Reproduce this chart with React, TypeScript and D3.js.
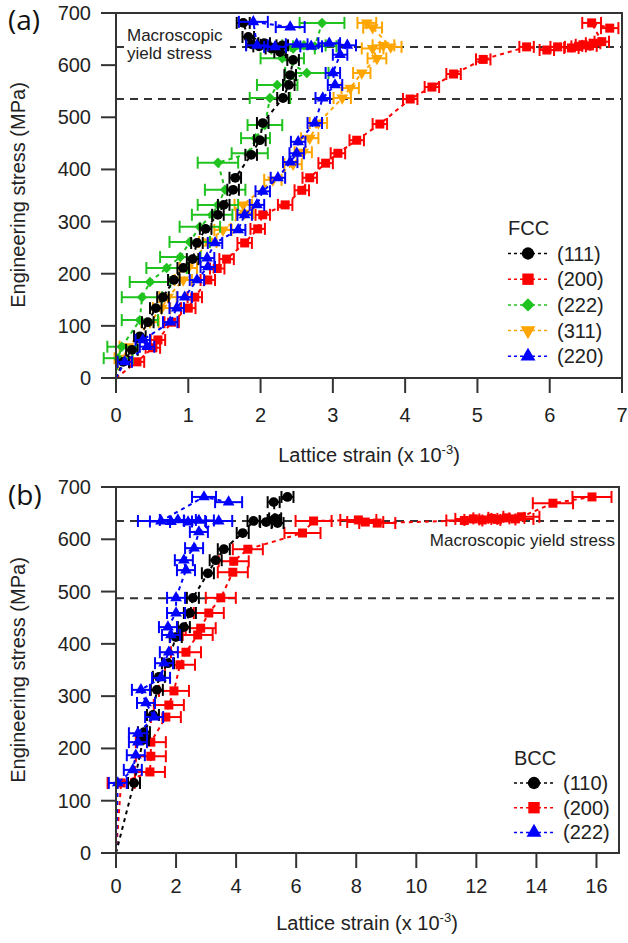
import React from "react";
import * as d3 from "d3";

// ---------- Panel (a): FCC ----------
const fccNames = ["(111)", "(200)", "(222)", "(311)", "(220)"];
const fccColors = ["#000000", "#ff0000", "#1fc21f", "#ffa500", "#0000ff"];
const fccShapes = ["circle", "square", "diamond", "triDown", "triUp"];

const fcc111Strain = [0, 0.10, 0.22, 0.33, 0.44, 0.55, 0.65, 0.80, 0.93, 1.06, 1.12, 1.24, 1.41, 1.49, 1.62, 1.65, 1.87, 1.99, 2.03, 2.31, 2.39, 2.41, 2.45, 2.27, 2.15, 1.98, 1.88, 2.05, 2.30, 1.83, 1.76];
const fcc111Stress = [0, 31, 54, 80, 107, 134, 155, 188, 211, 228, 259, 286, 313, 332, 361, 384, 428, 456, 489, 537, 562, 581, 610, 625, 632, 636, 640, 642, 638, 654, 681];
const fcc111Err = [0, 0.08, 0.08, 0.08, 0.08, 0.08, 0.08, 0.08, 0.08, 0.08, 0.08, 0.08, 0.08, 0.08, 0.08, 0.08, 0.08, 0.08, 0.08, 0.08, 0.08, 0.08, 0.08, 0.08, 0.08, 0.08, 0.08, 0.08, 0.08, 0.08, 0.09];

const fcc200Strain = [0, 0.29, 0.51, 0.58, 0.77, 1.00, 1.09, 1.27, 1.40, 1.53, 1.78, 1.96, 2.03, 2.34, 2.57, 2.68, 2.90, 3.07, 3.33, 3.65, 4.07, 4.37, 4.67, 5.08, 5.68, 5.96, 6.11, 6.30, 6.40, 6.46, 6.55, 6.60, 6.72, 6.58, 6.83];
const fcc200Stress = [0, 31, 58, 73, 107, 134, 155, 188, 210, 228, 259, 286, 313, 332, 360, 384, 412, 431, 456, 487, 535, 558, 583, 611, 635, 629, 635, 633, 636, 639, 637, 642, 645, 681, 671];
const fcc200Err = [0, 0.1, 0.1, 0.1, 0.1, 0.1, 0.1, 0.1, 0.1, 0.1, 0.1, 0.1, 0.1, 0.1, 0.1, 0.1, 0.1, 0.1, 0.1, 0.1, 0.1, 0.1, 0.1, 0.1, 0.1, 0.1, 0.1, 0.1, 0.1, 0.1, 0.1, 0.1, 0.1, 0.13, 0.12];

const fcc222Strain = [0, 0.03, 0.08, 0.33, 0.36, 0.47, 0.70, 0.89, 1.02, 1.16, 1.33, 1.41, 1.51, 1.41, 1.85, 1.93, 2.06, 2.13, 2.23, 2.64, 2.30, 2.45, 2.60, 2.75, 2.85];
const fcc222Stress = [0, 38, 60, 111, 155, 184, 211, 232, 261, 290, 313, 332, 361, 413, 431, 460, 485, 537, 562, 585, 613, 632, 638, 636, 681];
const fcc222Err = [0, 0.2, 0.2, 0.25, 0.28, 0.28, 0.28, 0.28, 0.28, 0.28, 0.28, 0.28, 0.28, 0.28, 0.25, 0.2, 0.24, 0.28, 0.28, 0.3, 0.3, 0.3, 0.3, 0.3, 0.31];

const fcc311Strain = [0, 0.10, 0.17, 0.47, 0.63, 0.72, 0.93, 1.00, 1.27, 1.48, 1.78, 1.76, 2.17, 2.45, 2.59, 2.68, 2.80, 3.13, 3.24, 3.40, 3.61, 3.55, 3.70, 3.80, 3.55, 3.47];
const fcc311Stress = [0, 38, 60, 107, 134, 155, 188, 211, 261, 284, 316, 332, 380, 410, 433, 460, 489, 537, 556, 585, 613, 632, 638, 635, 672, 681];
const fcc311Err = [0, 0.12, 0.12, 0.12, 0.12, 0.12, 0.12, 0.12, 0.12, 0.12, 0.12, 0.12, 0.12, 0.12, 0.12, 0.12, 0.12, 0.12, 0.12, 0.12, 0.13, 0.15, 0.15, 0.15, 0.13, 0.13];

const fcc220Strain = [0, 0.12, 0.43, 0.37, 0.75, 0.84, 0.95, 1.12, 1.27, 1.26, 1.37, 1.69, 1.78, 1.95, 2.03, 2.24, 2.41, 2.50, 2.52, 2.75, 2.86, 3.03, 3.00, 3.10, 3.20, 2.95, 2.70, 2.50, 2.20, 1.95, 1.90, 2.41];
const fcc220Stress = [0, 31, 60, 73, 107, 134, 155, 188, 213, 230, 259, 284, 313, 332, 358, 384, 414, 431, 453, 489, 537, 562, 585, 620, 638, 642, 636, 640, 635, 638, 683, 673];
const fcc220Err = [0, 0.1, 0.1, 0.1, 0.1, 0.1, 0.1, 0.1, 0.1, 0.1, 0.1, 0.1, 0.1, 0.1, 0.1, 0.1, 0.1, 0.1, 0.1, 0.1, 0.1, 0.1, 0.1, 0.1, 0.12, 0.15, 0.15, 0.15, 0.15, 0.15, 0.2, 0.2];

const fccXTicks = [0, 1, 2, 3, 4, 5, 6, 7];
const fccYTicks = [0, 100, 200, 300, 400, 500, 600, 700];
const fccRefLines = [635, 535];

// ---------- Panel (b): BCC ----------
const bccNames = ["(110)", "(200)", "(222)"];
const bccColors = ["#000000", "#ff0000", "#0000ff"];
const bccShapes = ["circle", "square", "triUp"];

const bcc110Strain = [0, 0.60, 0.90, 0.93, 1.23, 1.36, 1.43, 1.73, 1.99, 2.26, 2.46, 2.56, 3.06, 3.32, 3.59, 4.22, 4.58, 5.00, 5.25, 5.38, 5.30, 5.25, 5.71];
const bcc110Stress = [0, 134, 216, 231, 264, 312, 337, 363, 413, 432, 459, 488, 535, 560, 581, 612, 635, 633, 637, 631, 640, 671, 681];
const bcc110Err = [0, 0.2, 0.2, 0.2, 0.2, 0.2, 0.2, 0.2, 0.2, 0.2, 0.2, 0.2, 0.2, 0.2, 0.2, 0.2, 0.2, 0.2, 0.2, 0.2, 0.2, 0.2, 0.2];

const bcc200Strain = [0, 0.17, 1.13, 1.16, 1.16, 1.66, 1.76, 1.93, 2.13, 2.33, 2.72, 2.82, 3.09, 3.49, 3.89, 3.92, 4.39, 6.21, 6.58, 8.07, 8.30, 8.70, 11.6, 11.9, 12.2, 12.5, 12.7, 13.0, 13.3, 13.5, 14.55, 15.85];
const bcc200Stress = [0, 134, 155, 185, 212, 260, 283, 310, 360, 384, 417, 430, 459, 488, 537, 558, 581, 612, 635, 637, 633, 631, 636, 639, 637, 640, 638, 641, 639, 643, 669, 681];
const bcc200Err = [0, 0.45, 0.5, 0.5, 0.5, 0.5, 0.5, 0.5, 0.5, 0.5, 0.5, 0.5, 0.5, 0.5, 0.5, 0.5, 0.5, 0.6, 0.6, 0.6, 0.6, 0.6, 0.6, 0.6, 0.6, 0.6, 0.6, 0.6, 0.6, 0.6, 0.67, 0.65];

const bcc222Strain = [0, 0.06, 0.56, 0.66, 0.73, 0.73, 1.27, 1.00, 0.83, 1.50, 1.60, 1.76, 1.83, 1.73, 2.00, 2.00, 2.33, 2.26, 2.60, 2.76, 3.42, 2.76, 2.40, 2.06, 1.83, 1.50, 2.93, 3.75];
const bcc222Stress = [0, 134, 159, 187, 212, 229, 260, 287, 312, 335, 363, 384, 417, 432, 459, 488, 541, 560, 583, 614, 635, 636, 633, 637, 634, 635, 681, 671];
const bcc222Err = [0, 0.3, 0.3, 0.3, 0.3, 0.3, 0.3, 0.3, 0.3, 0.3, 0.3, 0.3, 0.3, 0.3, 0.3, 0.3, 0.3, 0.3, 0.3, 0.3, 0.45, 0.5, 0.6, 0.6, 0.7, 0.77, 0.4, 0.45];

const bccXTicks = [0, 2, 4, 6, 8, 10, 12, 14, 16];
const bccYTicks = [0, 100, 200, 300, 400, 500, 600, 700];
const bccRefLines = [635, 487];

// ---------- helpers ----------
const AXIS = "#333333";
const TICKFONT = "'Liberation Sans', Arial, sans-serif";

function markerPath(shape: string, big: boolean) {
  const k = big ? 1.6 : 1;
  if (shape === "circle") return d3.symbol(d3.symbolCircle, 75 * k)()!;
  if (shape === "square") return d3.symbol(d3.symbolSquare, 81 * k)()!;
  if (shape === "diamond") return d3.symbol(d3.symbolSquare, 55 * k)()!;
  return d3.symbol(d3.symbolTriangle, 60 * k)()!;
}
function markerRot(shape: string) {
  if (shape === "diamond") return 45;
  if (shape === "triDown") return 180;
  return 0;
}

type Ser = { strain: number[]; stress: number[]; err: number[]; color: string; shape: string };

function SeriesG({ s, x, y }: { s: Ser; x: any; y: any }) {
  const pts = s.strain.map((v, i) => ({ x: v, y: s.stress[i], e: s.err[i] }));
  const line = d3.line<any>().x((d) => x(d.x)).y((d) => y(d.y));
  const mp = markerPath(s.shape, false);
  const rot = markerRot(s.shape);
  return (
    <g>
      <path d={line(pts)!} fill="none" stroke={s.color} strokeWidth={2} strokeDasharray="4,4" />
      {pts.map((p, i) =>
        p.y === 0 ? null : (
          <g key={i}>
            <line x1={x(p.x - p.e)} x2={x(p.x + p.e)} y1={y(p.y)} y2={y(p.y)} stroke={s.color} strokeWidth={2} />
            <line x1={x(p.x - p.e)} x2={x(p.x - p.e)} y1={y(p.y) - 6} y2={y(p.y) + 6} stroke={s.color} strokeWidth={2} />
            <line x1={x(p.x + p.e)} x2={x(p.x + p.e)} y1={y(p.y) - 6} y2={y(p.y) + 6} stroke={s.color} strokeWidth={2} />
            <path d={mp} fill={s.color} transform={`translate(${x(p.x)},${y(p.y)}) rotate(${rot})`} />
          </g>
        )
      )}
    </g>
  );
}

function Axes({ x, y, xTicks, yTicks, labelOff }: any) {
  const [x0, x1] = x.range();
  const [y0, y1] = y.range();
  return (
    <g>
      <rect x={x0} y={y1} width={x1 - x0} height={y0 - y1} fill="none" stroke={AXIS} strokeWidth={2} />
      {yTicks.map((t: number) => (
        <g key={"y" + t}>
          <line x1={x0 - 15} x2={x0} y1={y(t)} y2={y(t)} stroke={AXIS} strokeWidth={2} />
          <text x={x0 - 25} y={y(t) + 7} textAnchor="end" fontSize={20} fontFamily={TICKFONT} fill="#222">{t}</text>
        </g>
      ))}
      {xTicks.map((t: number) => (
        <g key={"x" + t}>
          <line x1={x(t)} x2={x(t)} y1={y0} y2={y0 + 15} stroke={AXIS} strokeWidth={2} />
          <text x={x(t)} y={y0 + labelOff} textAnchor="middle" fontSize={20} fontFamily={TICKFONT} fill="#222">{t}</text>
        </g>
      ))}
    </g>
  );
}

function Legend({ title, names, colors, shapes, x0, yTitle, y0, step }: any) {
  return (
    <g>
      <text x={x0} y={yTitle + 7} fontSize={20} fontFamily={TICKFONT} fill="#222">{title}</text>
      {names.map((n: string, i: number) => {
        const yy = y0 + i * step;
        return (
          <g key={n}>
            <line x1={x0} x2={x0 + 40} y1={yy} y2={yy} stroke={colors[i]} strokeWidth={1.5} strokeDasharray="3,3" />
            <path d={markerPath(shapes[i], true)} fill={colors[i]} transform={`translate(${x0 + 20},${yy}) rotate(${markerRot(shapes[i])})`} />
            <text x={x0 + 49} y={yy + 7} fontSize={20} fontFamily={TICKFONT} fill="#222">{n}</text>
          </g>
        );
      })}
    </g>
  );
}

export default function App() {
  const xA = d3.scaleLinear().domain([0, 7]).range([116, 622]);
  const yA = d3.scaleLinear().domain([0, 700]).range([378, 13]);
  const xB = d3.scaleLinear().domain([0, 16.75]).range([116, 619]);
  const yB = d3.scaleLinear().domain([0, 700]).range([853, 487]);

  const fccSeries: Ser[] = [
    { strain: fcc200Strain, stress: fcc200Stress, err: fcc200Err, color: fccColors[1], shape: fccShapes[1] },
    { strain: fcc311Strain, stress: fcc311Stress, err: fcc311Err, color: fccColors[3], shape: fccShapes[3] },
    { strain: fcc222Strain, stress: fcc222Stress, err: fcc222Err, color: fccColors[2], shape: fccShapes[2] },
    { strain: fcc111Strain, stress: fcc111Stress, err: fcc111Err, color: fccColors[0], shape: fccShapes[0] },
    { strain: fcc220Strain, stress: fcc220Stress, err: fcc220Err, color: fccColors[4], shape: fccShapes[4] },
  ];
  const bccSeries: Ser[] = [
    { strain: bcc200Strain, stress: bcc200Stress, err: bcc200Err, color: bccColors[1], shape: bccShapes[1] },
    { strain: bcc110Strain, stress: bcc110Stress, err: bcc110Err, color: bccColors[0], shape: bccShapes[0] },
    { strain: bcc222Strain, stress: bcc222Stress, err: bcc222Err, color: bccColors[2], shape: bccShapes[2] },
  ];

  const ref = (x: any, y: any, v: number) => (
    <line key={v} x1={x.range()[0]} x2={x.range()[1]} y1={y(v)} y2={y(v)} stroke="#333" strokeWidth={2} strokeDasharray="8,6" />
  );

  return (
    <svg width={628} height={943} style={{ position: "absolute", left: 0, top: 0, background: "#fff" }}>
      <rect width={628} height={943} fill="#fff" />
      {/* Panel (a) */}
      {fccRefLines.map((v) => ref(xA, yA, v))}
      <rect x={124} y={26} width={106} height={38} fill="#fff" />
      <text x={127} y={41} fontSize={17} fontFamily={TICKFONT} fill="#222">Macroscopic</text>
      <text x={127} y={59} fontSize={17} fontFamily={TICKFONT} fill="#222">yield stress</text>
      {fccSeries.map((s, i) => <SeriesG key={i} s={s} x={xA} y={yA} />)}
      <Axes x={xA} y={yA} xTicks={fccXTicks} yTicks={fccYTicks} labelOff={44} />
      <Legend title="FCC" names={fccNames} colors={fccColors} shapes={fccShapes} x0={508} yTitle={228} y0={253.5} step={25.7} />
      <text x={369} y={462} textAnchor="middle" fontSize={20} fontFamily={TICKFONT} fill="#222">
        Lattice strain (x 10<tspan dy={-8} fontSize={13}>-3</tspan><tspan dy={8}>)</tspan>
      </text>
      <text transform="translate(25,195) rotate(-90)" textAnchor="middle" fontSize={20} fontFamily={TICKFONT} fill="#222">Engineering stress (MPa)</text>
      <text x={8} y={30} fontSize={28} fontFamily="'Open Sans', sans-serif" fill="#111">(a)</text>

      {/* Panel (b) */}
      {bccRefLines.map((v) => ref(xB, yB, v))}
      {bccSeries.map((s, i) => <SeriesG key={i} s={s} x={xB} y={yB} />)}
      <text x={615} y={546} textAnchor="end" fontSize={17} fontFamily={TICKFONT} fill="#222">Macroscopic yield stress</text>
      <Axes x={xB} y={yB} xTicks={bccXTicks} yTicks={bccYTicks} labelOff={40} />
      <Legend title="BCC" names={bccNames} colors={bccColors} shapes={bccShapes} x0={514} yTitle={758} y0={783} step={24.7} />
      <text x={367} y={930} textAnchor="middle" fontSize={20} fontFamily={TICKFONT} fill="#222">
        Lattice strain (x 10<tspan dy={-8} fontSize={13}>-3</tspan><tspan dy={8}>)</tspan>
      </text>
      <text transform="translate(25,670) rotate(-90)" textAnchor="middle" fontSize={20} fontFamily={TICKFONT} fill="#222">Engineering stress (MPa)</text>
      <text x={8} y={505} fontSize={28} fontFamily="'Open Sans', sans-serif" fill="#111">(b)</text>
    </svg>
  );
}
